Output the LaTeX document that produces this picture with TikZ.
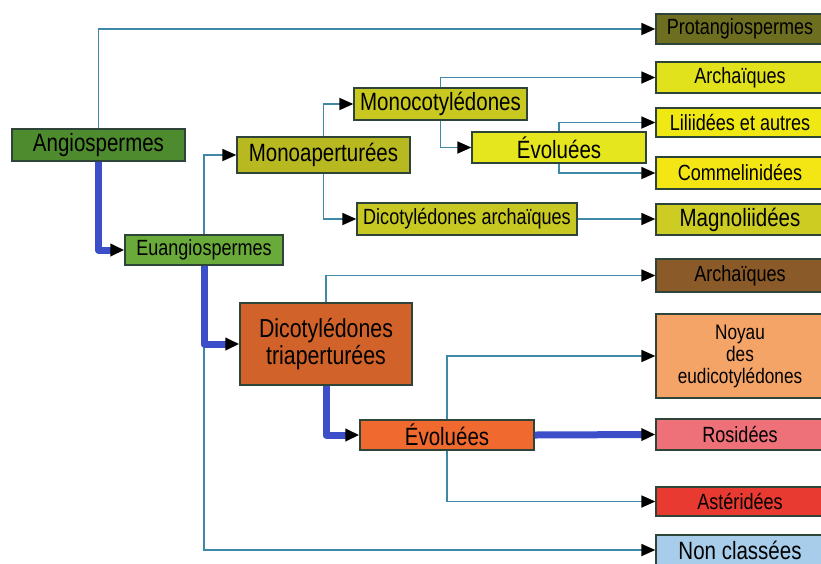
\documentclass[tikz,border=0pt]{standalone}
\usepackage{fontspec}
\setmainfont{Liberation Sans}[FakeStretch=0.82]
\usetikzlibrary{arrows.meta}

\definecolor{bord}{HTML}{2F4438}
\definecolor{lienbleu}{HTML}{3F88A8}
\definecolor{voiebleu}{HTML}{3C4EC8}
\definecolor{cangio}{HTML}{4E8A2E}
\definecolor{ceuangio}{HTML}{6AAA3A}
\definecolor{cmonoap}{HTML}{B8B820}
\definecolor{cmonocot}{HTML}{C8C820}
\definecolor{cdicarch}{HTML}{C8C822}
\definecolor{cevomono}{HTML}{E6E61E}
\definecolor{cdictri}{HTML}{D0622A}
\definecolor{cevodico}{HTML}{F06A30}
\definecolor{cprotang}{HTML}{6E6E20}
\definecolor{carchmono}{HTML}{E2E21C}
\definecolor{clili}{HTML}{F0E812}
\definecolor{ccomm}{HTML}{F4E614}
\definecolor{cmagno}{HTML}{CCCC22}
\definecolor{carchdico}{HTML}{8A5A28}
\definecolor{cnoyau}{HTML}{F5A468}
\definecolor{crosid}{HTML}{EE7078}
\definecolor{caster}{HTML}{E83A30}
\definecolor{cnoncl}{HTML}{A8CDEB}

\begin{document}
\begin{tikzpicture}[x=1pt, y=-1pt,
    taxon/.style={rectangle, draw=bord, line width=1.3pt, inner sep=0pt, align=center,
      font=\fontsize{22}{23}\selectfont},
    grand/.style={font=\fontsize{25}{27}\selectfont},
    feuille/.style={taxon, minimum width=168pt},
    lien/.style={draw=lienbleu, line width=1.8pt, -{Triangle[length=14pt,width=12pt,color=black]}},
    voie/.style={draw=voiebleu, line width=7pt, line join=round, -{Triangle[length=14pt,width=12pt,color=black]}}]
      \useasboundingbox (0,0) rectangle (821,563);

      % Nodes
      \node[taxon, grand, fill=cangio, minimum width=173pt, minimum height=32pt] at (98.5,145) (angio) {Angiospermes};
      \node[taxon, fill=ceuangio, minimum width=158pt, minimum height=30pt] at (204,250) (euangio) {Euangiospermes};
      \node[taxon, grand, fill=cmonoap, minimum width=173pt, minimum height=36pt] at (323.5,155) (monoap) {Monoaperturées};
      \node[taxon, grand, fill=cmonocot, minimum width=173pt, minimum height=32pt] at (440.5,104) (monocot) {Monocotylédones};
      \node[taxon, fill=cdicarch, minimum width=220pt, minimum height=32pt] at (467,219) (dicarch) {Dicotylédones archaïques};
      \node[taxon, grand, fill=cevomono, minimum width=174pt, minimum height=31pt] at (559,147.5) (evomono) {Évoluées};
      \node[taxon, fill=cdictri, minimum width=172pt, minimum height=82pt, font=\fontsize{26}{27}\selectfont] at (326,344) (dictri) {Dicotylédones\\triaperturées};
      \node[taxon, grand, fill=cevodico, minimum width=174pt, minimum height=30pt] at (447,435) (evodico) {Évoluées};

      \node[feuille, fill=cprotang, minimum height=30pt] at (740,29) (protang) {Protangiospermes};
      \node[feuille, fill=carchmono, minimum height=31pt] at (740,77.5) (archmono) {Archaïques};
      \node[feuille, fill=clili, minimum height=29pt] at (740,122.5) (lili) {Liliidées et autres};
      \node[feuille, fill=ccomm, minimum height=32pt] at (740,173) (comm) {Commelinidées};
      \node[feuille, grand, fill=cmagno, minimum height=31pt] at (740,219.5) (magno) {Magnoliidées};
      \node[feuille, fill=carchdico, minimum height=33pt] at (740,275.5) (archdico) {Archaïques};
      \node[feuille, fill=cnoyau, minimum height=84pt, font=\fontsize{21}{22}\selectfont] at (740,356) (noyau) {Noyau\\des\\eudicotylédones};
      \node[feuille, fill=crosid, minimum height=31pt] at (740,434.5) (rosid) {Rosidées};
      \node[feuille, fill=caster, minimum height=29pt] at (740,501.5) (aster) {Astéridées};
      \node[feuille, grand, fill=cnoncl, minimum height=30pt] at (740,550) (noncl) {Non classées};

      % Thin links
      \draw[lien] (angio.north) |- (protang.west);
      \draw[lien] (euangio.north) |- (monoap.west);
      \draw[lien] (euangio.south) |- (noncl.west);
      \draw[lien] (monoap.north) |- (monocot.west);
      \draw[lien] (monoap.south) |- (dicarch.west);
      \draw[lien] (monocot.north) |- (archmono.west);
      \draw[lien] (monocot.south) |- (evomono.west);
      \draw[lien] (evomono.north) |- (lili.west);
      \draw[lien] (evomono.south) |- (comm.west);
      \draw[lien] (dicarch.east) -- (dicarch.east -| magno.west);
      \draw[lien] (dictri.north) |- (archdico.west);
      \draw[lien] (evodico.north) |- (noyau.west);
      \draw[lien] (evodico.south) |- (aster.west);

      % Main path
      \draw[voie] (angio.south) |- (euangio.west);
      \draw[voie] (euangio.south) |- (dictri.west);
      \draw[voie] (dictri.south) |- (evodico.west);
      \draw[voie] (evodico.east) -- (rosid.west);
    \end{tikzpicture}
\end{document}
